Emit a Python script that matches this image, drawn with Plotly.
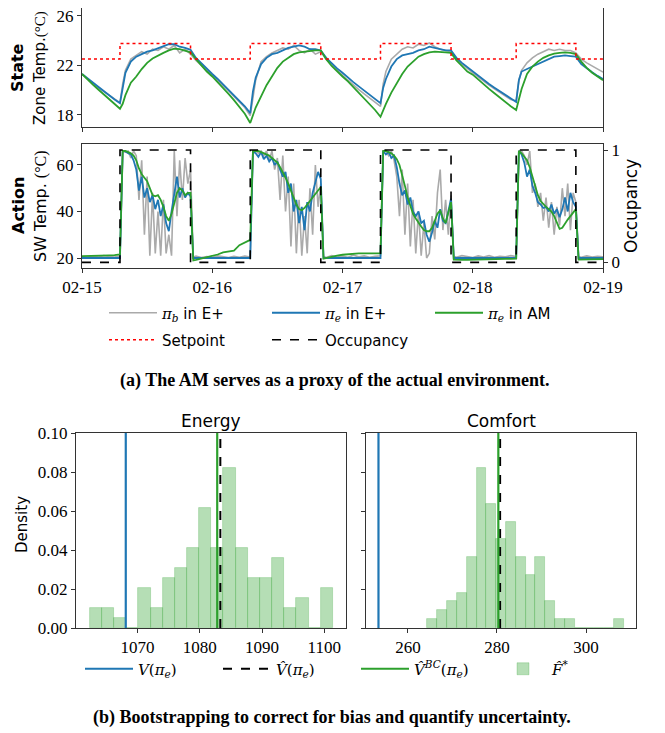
import numpy as np
import pandas as pd
import plotly.graph_objects as go

# ---------------- data ----------------
start = pd.Timestamp("2021-02-15")

# zone temperature (hours since 02-15 00:00)
zone_hours = [0, 1, 2, 3, 4, 5, 6, 7, 7.5,
              8, 9, 10, 11, 12, 13, 14, 15, 16, 17, 18, 19, 20,
              21, 22, 23, 24, 25, 26, 27, 28, 29, 30, 31, 31.5,
              32, 33, 34, 35, 36, 37, 38, 39, 40, 41, 42, 43, 44,
              45, 46, 47, 48, 49, 50, 51, 52, 53, 54, 55, 55.5,
              56, 57, 58, 59, 60, 61, 62, 63, 64, 65, 66, 67, 68,
              69, 70, 71, 72, 73, 74, 75, 76, 77, 78, 79, 80, 80.5,
              81, 82, 83, 84, 85, 86, 87, 88, 89, 90, 91,
              92, 93, 94, 95, 96]
zone_pib = [21.3, 20.9, 20.55, 20.2, 19.9, 19.6, 19.3, 19.0, 20.5,
            21.6, 22.5, 22.8, 23.1, 22.9, 23.3, 23.2, 23.5, 23.3, 23.6, 23.0, 23.3, 22.9,
            22.4, 22.0, 21.6, 21.2, 20.8, 20.35, 19.95, 19.5, 19.05, 18.6, 17.95, 19.6,
            20.8, 22.3, 22.7, 23.0, 23.2, 23.4, 23.3, 23.6, 23.2, 23.0, 23.3, 22.9, 23.1,
            22.5, 22.05, 21.6, 21.2, 20.8, 20.4, 20.05, 19.7, 19.35, 19.0, 18.7, 20.5,
            21.5, 22.5, 22.9, 23.3, 23.5, 23.4, 23.7, 23.6, 23.8, 23.5, 23.3, 23.2, 23.1,
            22.5, 22.1, 21.75, 21.4, 21.05, 20.7, 20.4, 20.1, 19.8, 19.5, 19.25, 19.15, 20.8,
            21.6, 22.2, 22.6, 22.9, 23.1, 23.3, 23.2, 23.3, 23.2, 23.2, 23.0,
            22.5, 22.2, 21.95, 21.7, 21.45]
zone_pie = [21.3, 20.95, 20.6, 20.25, 19.9, 19.6, 19.25, 18.95, 20.3,
            21.4, 22.3, 22.7, 22.9, 23.1, 23.2, 23.35, 23.5, 23.7, 23.7, 23.5, 23.4, 23.25,
            22.6, 22.15, 21.7, 21.3, 20.9, 20.45, 20.0, 19.6, 19.15, 18.7, 18.15, 19.9,
            21.0, 22.1, 22.6, 22.9, 23.0, 23.2, 23.4, 23.5, 23.6, 23.5, 23.3, 23.3, 23.2,
            22.6, 22.15, 21.75, 21.4, 21.0, 20.65, 20.3, 19.95, 19.6, 19.3, 18.95, 20.2,
            20.9, 21.9, 22.5, 22.8, 22.9, 23.0, 23.2, 23.3, 23.5, 23.4, 23.3, 23.2, 23.2,
            22.6, 22.2, 21.85, 21.5, 21.15, 20.8, 20.5, 20.2, 19.9, 19.6, 19.3, 19.05, 20.8,
            21.5, 21.7, 21.9, 22.1, 22.3, 22.5, 22.7, 22.75, 22.8, 22.75, 22.7,
            22.1, 21.75, 21.45, 21.15, 20.9]
zone_am = [21.3, 20.85, 20.45, 20.05, 19.65, 19.25, 18.9, 18.5, 18.9,
           19.6, 20.6, 21.1, 21.7, 22.2, 22.55, 22.8, 23.0, 23.2, 23.35, 23.3, 23.2, 23.05,
           22.5, 22.0, 21.5, 21.1, 20.65, 20.2, 19.7, 19.2, 18.65, 18.1, 17.35, 18.0,
           18.6, 19.5, 20.4, 21.1, 21.8, 22.3, 22.6, 22.9, 23.05, 23.1, 23.2, 23.2, 23.2,
           22.5, 21.95, 21.5, 21.1, 20.7, 20.25, 19.8, 19.3, 18.85, 18.4, 17.85, 18.4,
           18.9, 19.8, 20.6, 21.3, 21.9, 22.3, 22.7, 22.9, 23.05, 23.1, 23.1, 23.05, 23.0,
           22.4, 21.95, 21.5, 21.25, 20.85, 20.5, 20.1, 19.75, 19.4, 19.0, 18.7, 18.4, 19.3,
           20.1, 21.3, 21.9, 22.3, 22.6, 22.8, 22.95, 23.0, 23.05, 23.0, 22.9,
           22.3, 21.8, 21.4, 21.1, 20.8]

# supply water temperature
sw_hours = [0, 1, 2, 3, 4, 5, 6, 7,
            7.5, 8, 8.5, 9, 9.5, 10, 10.5, 11, 11.5, 12, 12.5, 13, 13.5,
            14, 14.5, 15, 15.5, 16, 16.5, 17, 17.5, 18, 18.5, 19, 19.5, 20,
            20.5, 21, 22, 23, 24, 25, 26, 27, 28, 29, 30, 31,
            31.5, 32, 32.5, 33, 33.5, 34, 34.5, 35, 35.5, 36, 36.5, 37, 37.5,
            38, 38.5, 39, 39.5, 40, 40.5, 41, 41.5, 42, 42.5, 43, 43.5, 44,
            44.5, 45, 46, 47, 48, 49, 50, 51, 52, 53, 54, 55,
            55.5, 56, 56.5, 57, 57.5, 58, 58.5, 59, 59.5, 60, 60.5, 61, 61.5,
            62, 62.5, 63, 63.5, 64, 64.5, 65, 65.5, 66, 66.5, 67, 67.5, 68,
            68.5, 69, 70, 71, 72, 73, 74, 75, 76, 77, 78, 79, 80,
            80.5, 81, 81.5, 82, 82.5, 83, 83.5, 84, 84.5, 85, 85.5,
            86, 86.5, 87, 87.5, 88, 88.5, 89, 89.5, 90, 90.5, 91,
            91.5, 92, 93, 94, 95, 96]
sw_pib = [20.5, 20.3, 20.9, 20.4, 21.0, 20.6, 20.4, 20.8,
          66.0, 65.5, 66.0, 63.0, 66.0, 64.0, 45.0, 62.0, 30.0, 55.0, 21.0, 48.0, 22.0,
          40.0, 21.0, 45.0, 22.0, 30.0, 21.0, 66.0, 38.0, 62.0, 45.0, 63.0, 52.0, 58.0,
          20.3, 20.8, 20.2, 20.6, 20.3, 20.9, 20.4, 20.2, 20.7, 20.3, 20.8, 20.4,
          66.0, 66.0, 65.0, 66.0, 64.0, 66.0, 62.0, 66.0, 58.0, 63.0, 45.0, 64.0, 40.0,
          55.0, 25.0, 52.0, 22.0, 45.0, 21.0, 38.0, 22.0, 50.0, 30.0, 60.0, 42.0, 52.0,
          20.6, 20.2, 21.0, 20.4, 20.8, 20.3, 21.2, 20.5, 20.9, 20.3, 20.7, 21.0,
          66.0, 66.0, 64.0, 66.0, 62.0, 55.0, 38.0, 58.0, 30.0, 52.0, 25.0, 45.0, 22.0,
          40.0, 21.0, 35.0, 20.0, 22.0, 38.0, 28.0, 48.0, 58.0, 32.0, 45.0, 30.0, 47.0,
          20.8, 20.3, 21.0, 20.5, 20.2, 20.9, 20.4, 21.0, 20.3, 20.7, 20.5, 21.0, 20.6,
          66.0, 66.0, 64.0, 60.0, 66.0, 48.0, 52.0, 42.0, 48.0, 36.0, 46.0,
          33.0, 44.0, 30.0, 42.0, 34.0, 50.0, 38.0, 52.0, 32.0, 48.0, 44.0,
          20.6, 20.3, 20.9, 20.4, 20.7, 20.5]
sw_pie = [20.0, 20.0, 20.0, 20.0, 20.0, 20.0, 20.0, 20.0,
          66.0, 65.8, 65.0, 64.5, 62.0, 58.0, 49.0, 55.0, 46.0, 50.0, 44.0, 47.0, 41.0,
          45.0, 38.0, 43.0, 35.0, 31.5, 40.0, 47.0, 55.0, 46.0, 50.0, 46.0, 48.0, 46.5,
          20.0, 20.0, 20.0, 20.0, 20.0, 20.0, 20.0, 20.0, 20.0, 20.0, 20.0, 20.0,
          66.0, 65.0, 63.5, 65.5, 62.5, 64.0, 61.5, 63.0, 60.0, 61.5, 58.0, 55.0, 57.0,
          48.0, 52.0, 40.0, 45.0, 35.0, 42.0, 32.0, 44.0, 40.0, 48.0, 53.0, 57.0, 54.0,
          20.0, 20.0, 20.0, 20.0, 20.0, 20.0, 20.0, 20.0, 20.0, 20.0, 20.0, 20.0,
          66.0, 64.5, 65.5, 63.0, 64.0, 59.0, 52.0, 47.0, 49.0, 43.0, 46.0, 40.0, 38.0,
          40.0, 35.0, 36.0, 30.0, 27.0, 31.0, 36.0, 33.0, 41.0, 36.0, 35.0, 40.0, 45.5,
          20.0, 20.0, 20.0, 20.0, 20.0, 20.0, 20.0, 20.0, 20.0, 20.0, 20.0, 20.0, 20.0,
          66.0, 64.5, 61.0, 55.0, 58.0, 51.0, 48.0, 44.0, 43.0, 41.5, 42.0,
          40.0, 43.0, 39.0, 41.0, 37.5, 41.0, 46.0, 40.0, 48.0, 44.0, 42.0,
          20.0, 20.0, 20.0, 20.0, 20.0, 20.0]
sw_am = [20.8, 20.8, 20.9, 20.9, 21.0, 21.1, 21.2, 21.5,
         66.0, 66.0, 65.5, 65.0, 64.0, 62.0, 58.5, 56.0, 54.5, 53.0, 50.0, 47.0, 46.5,
         47.0, 45.0, 42.0, 38.0, 36.0, 39.0, 44.0, 48.0, 50.0, 49.0, 47.0, 48.0, 48.0,
         19.0, 19.2, 19.7, 20.3, 20.8, 21.5, 22.4, 22.9, 23.2, 25.5, 26.8, 27.8,
         66.0, 66.0, 66.0, 65.5, 65.0, 64.5, 64.0, 63.0, 62.0, 61.0, 59.0, 57.0, 54.5,
         52.0, 49.0, 46.0, 43.0, 41.0, 40.5, 41.5, 43.0, 44.5, 46.0, 48.0, 49.5, 50.5,
         19.7, 20.0, 20.5, 21.0, 21.4, 21.7, 21.9, 22.0, 22.0, 22.0, 22.0, 22.0,
         66.0, 66.0, 65.5, 65.0, 64.0, 62.5, 60.0, 56.0, 51.0, 46.0, 42.0, 39.0, 37.0,
         35.0, 33.5, 32.0, 31.5, 31.5, 33.0, 36.0, 39.0, 40.5, 37.0, 35.0, 39.0, 44.0,
         19.3, 19.2, 19.2, 19.2, 19.3, 19.3, 19.4, 19.4, 19.5, 19.5, 19.6, 19.6, 19.7,
         66.0, 65.0, 63.5, 62.0, 59.0, 55.0, 51.0, 47.0, 44.5, 43.0, 42.0,
         41.0, 40.0, 38.0, 35.0, 32.5, 33.0, 35.0, 36.5, 38.0, 39.5, 41.0,
         19.3, 19.3, 19.4, 19.4, 19.5, 19.5]

# occupancy schedule and setpoint (step changes)
sched_hours = [0, 7, 20, 31, 44, 55, 68, 80, 91, 96]
occupancy = [0, 1, 0, 1, 0, 1, 0, 1, 0, 0]
setpoint = [22.5, 23.75, 22.5, 23.75, 22.5, 23.75, 22.5, 23.75, 22.5, 22.5]

# bootstrap histograms (100 samples, 20 bins)
n_boot = 100
energy_bin_start, energy_bin_width = 1062.3, 1.955
energy_counts = [2, 2, 1, 0, 4, 2, 5, 6, 8, 12, 8, 16, 8, 5, 5, 7, 2, 3, 0, 4]
comfort_bin_start, comfort_bin_width = 264.4, 2.2
comfort_counts = [1, 2, 3, 4, 8, 18, 14, 10, 12, 8, 6, 8, 3, 1, 1, 0, 0, 0, 0, 1]
energy_true, energy_hat, energy_bc = 1068.1, 1083.3, 1082.8
comfort_true, comfort_hat, comfort_bc = 253.4, 280.7, 280.3

# ---------------- figure ----------------
# the page body adds an 8px margin, so the figure is 8px smaller and
# every position below is given in window pixels minus that offset
OFF = 8
W, H = 665 - OFF, 733 - OFF
def px(x): return (x - OFF) / W
def py(y): return min(1.0, 1 - (y - OFF) / H)

GRAY, BLUE, GREEN = "#aaaaaa", "#1f77b4", "#2ca02c"
SERIF = "Liberation Serif"
SANS = "DejaVu Sans"

def t(hours):
    return start + pd.to_timedelta(hours, unit="h")

PI = "<span style=\"font-family:'DejaVu Serif'\"><i>π</i><sub><i>{}</i></sub></span>"

fig = go.Figure()
# state panel
fig.add_trace(go.Scatter(x=t(zone_hours), y=zone_pib, mode="lines", line=dict(color=GRAY, width=1.6),
                         name=PI.format("b") + " in E+", legend="legend", xaxis="x", yaxis="y"))
fig.add_trace(go.Scatter(x=t(zone_hours), y=zone_pie, mode="lines", line=dict(color=BLUE, width=1.8),
                         name=PI.format("e") + " in E+", legend="legend", xaxis="x", yaxis="y"))
fig.add_trace(go.Scatter(x=t(zone_hours), y=zone_am, mode="lines", line=dict(color=GREEN, width=1.8),
                         name=PI.format("e") + " in AM", legend="legend", xaxis="x", yaxis="y"))
fig.add_trace(go.Scatter(x=t(sched_hours), y=setpoint, mode="lines", line=dict(color="red", width=1.5, dash="dot", shape="hv"),
                         name="Setpoint", legend="legend2", xaxis="x", yaxis="y"))
# action panel
fig.add_trace(go.Scatter(x=t(sw_hours), y=sw_pib, mode="lines", line=dict(color=GRAY, width=1.6),
                         showlegend=False, xaxis="x2", yaxis="y2"))
fig.add_trace(go.Scatter(x=t(sw_hours), y=sw_pie, mode="lines", line=dict(color=BLUE, width=1.8),
                         showlegend=False, xaxis="x2", yaxis="y2"))
fig.add_trace(go.Scatter(x=t(sw_hours), y=sw_am, mode="lines", line=dict(color=GREEN, width=1.8),
                         showlegend=False, xaxis="x2", yaxis="y2"))
fig.add_trace(go.Scatter(x=t(sched_hours), y=occupancy, mode="lines", line=dict(color="black", width=1.6, dash="dash", shape="hv"),
                         name="Occupancy", legend="legend2", xaxis="x2", yaxis="y3"))

# histograms
yr = [0, 0.1]
VHAT = "<span style=\"font-family:'DejaVu Serif'\"><i>V̂</i>{}(<i>π</i><sub><i>e</i></sub>)</span>"
fig.add_trace(go.Scatter(x=[energy_true, energy_true], y=yr, mode="lines", line=dict(color=BLUE, width=2.2),
                         name="<span style=\"font-family:'DejaVu Serif'\"><i>V</i>(<i>π</i><sub><i>e</i></sub>)</span>",
                         legend="legend3", xaxis="x4", yaxis="y4"))
fig.add_trace(go.Scatter(x=[energy_hat, energy_hat], y=yr, mode="lines", line=dict(color="black", width=2, dash="dash"),
                         name=VHAT.format(""), legend="legend3", xaxis="x4", yaxis="y4"))
fig.add_trace(go.Scatter(x=[energy_bc, energy_bc], y=yr, mode="lines", line=dict(color=GREEN, width=2.2),
                         name=VHAT.format("<sup><i>BC</i></sup>"), legend="legend3", xaxis="x4", yaxis="y4"))
e_centers = energy_bin_start + energy_bin_width * (np.arange(len(energy_counts)) + 0.5)
c_centers = comfort_bin_start + comfort_bin_width * (np.arange(len(comfort_counts)) + 0.5)
fig.add_trace(go.Bar(x=e_centers, y=np.array(energy_counts) / (n_boot * energy_bin_width), width=energy_bin_width,
                     marker=dict(color="rgba(44,160,44,0.35)", line=dict(color="rgba(44,160,44,0.3)", width=0.8)),
                     name="<span style=\"font-family:'DejaVu Serif'\"><i>F̂</i><sup>*</sup></span>",
                     legend="legend3", xaxis="x4", yaxis="y4"))
fig.add_trace(go.Scatter(x=[comfort_true, comfort_true], y=yr, mode="lines", line=dict(color=BLUE, width=2.2),
                         showlegend=False, xaxis="x5", yaxis="y5"))
fig.add_trace(go.Scatter(x=[comfort_hat, comfort_hat], y=yr, mode="lines", line=dict(color="black", width=2, dash="dash"),
                         showlegend=False, xaxis="x5", yaxis="y5"))
fig.add_trace(go.Scatter(x=[comfort_bc, comfort_bc], y=yr, mode="lines", line=dict(color=GREEN, width=2.2),
                         showlegend=False, xaxis="x5", yaxis="y5"))
fig.add_trace(go.Bar(x=c_centers, y=np.array(comfort_counts) / (n_boot * comfort_bin_width), width=comfort_bin_width,
                     marker=dict(color="rgba(44,160,44,0.35)", line=dict(color="rgba(44,160,44,0.3)", width=0.8)),
                     showlegend=False, xaxis="x5", yaxis="y5"))

tickfont = dict(family=SERIF, size=17, color="black")
frame = dict(showline=True, mirror=True, linecolor="#333", linewidth=1, showgrid=False, zeroline=False,
             ticks="outside", ticklen=4, tickcolor="#333", tickfont=tickfont, ticklabeloverflow="allow")
xr = [start, t(96)]
legfont = dict(family=SANS, size=15, color="black")
fig.update_layout(
    width=W, height=H, margin=dict(l=0, r=0, t=0, b=0, autoexpand=False), autosize=False,
    paper_bgcolor="white", plot_bgcolor="white", bargap=0,
    xaxis=dict(frame, domain=[px(82), px(603)], anchor="y", range=xr, type="date",
               dtick=86400000, tick0=start, showticklabels=False),
    yaxis=dict(frame, domain=[py(127), py(8)], anchor="x", range=[17.03, 26.62], tickvals=[18, 22, 26]),
    xaxis2=dict(frame, domain=[px(82), px(603)], anchor="y2", range=xr, type="date",
                dtick=86400000, tick0=start, tickformat="%m-%d"),
    yaxis2=dict(frame, domain=[py(268), py(144)], anchor="x2", range=[15.7, 69.0], tickvals=[20, 40, 60]),
    yaxis3=dict(frame, overlaying="y2", anchor="x2", side="right", range=[-0.05, 1.054], tickvals=[0, 1],
                showline=False, mirror=False),
    xaxis4=dict(frame, domain=[px(76), px(346)], anchor="y4", range=[1060.1, 1103.5], tickvals=[1070, 1080, 1090, 1100]),
    yaxis4=dict(frame, domain=[py(628), py(433)], anchor="x4", range=yr,
                tickvals=[0, 0.02, 0.04, 0.06, 0.08, 0.1], tickformat=".2f"),
    xaxis5=dict(frame, domain=[px(366), px(636)], anchor="y5", range=[250.6, 311.2], tickvals=[260, 280, 300]),
    yaxis5=dict(frame, domain=[py(628), py(433)], anchor="x5", range=yr,
                tickvals=[0, 0.02, 0.04, 0.06, 0.08, 0.1], showticklabels=False),
    legend=dict(x=px(104), y=py(313), xanchor="left", yanchor="middle", orientation="h", itemwidth=48,
                entrywidth=100, font=legfont, bgcolor="rgba(0,0,0,0)", traceorder="normal"),
    legend2=dict(x=px(104), y=py(340), xanchor="left", yanchor="middle", orientation="h", itemwidth=48,
                 entrywidth=100, font=legfont, bgcolor="rgba(0,0,0,0)"),
    legend3=dict(x=px(80), y=py(669), xanchor="left", yanchor="middle", orientation="h", itemwidth=48,
                 entrywidth=75, font=legfont, bgcolor="rgba(0,0,0,0)"),
)

ann = [
    dict(text="<b>State</b>", x=px(18), y=py(68), textangle=-90, font=dict(family=SANS, size=16)),
    dict(text="Zone Temp.<span style=\"font-family:'Liberation Serif'\">(°C)</span>", x=px(40), y=py(68), textangle=-90,
         font=dict(family=SANS, size=15)),
    dict(text="<b>Action</b>", x=px(18), y=py(206), textangle=-90, font=dict(family=SANS, size=16)),
    dict(text="SW Temp. <span style=\"font-family:'Liberation Serif'\">(°C)</span>", x=px(40), y=py(206), textangle=-90,
         font=dict(family=SANS, size=16)),
    dict(text="Occupancy", x=px(631), y=py(206), textangle=-90, font=dict(family=SANS, size=17)),
    dict(text="<b>(a) The AM serves as a proxy of the actual environment.</b>", x=px(334), y=py(380),
         font=dict(family=SERIF, size=18)),
    dict(text="Energy", x=px(211), y=py(421), font=dict(family=SANS, size=17)),
    dict(text="Comfort", x=px(501), y=py(421), font=dict(family=SANS, size=17)),
    dict(text="Density", x=px(22), y=py(525), textangle=-90, font=dict(family=SANS, size=15)),
    dict(text="<b>(b) Bootstrapping to correct for bias and quantify uncertainty.</b>", x=px(332), y=py(717),
         font=dict(family=SERIF, size=18)),
]
for a in ann:
    a.setdefault("font", {})["color"] = "black"
    fig.add_annotation(xref="paper", yref="paper", showarrow=False, xanchor="center", yanchor="middle", **a)

fig.write_html("out.html")
